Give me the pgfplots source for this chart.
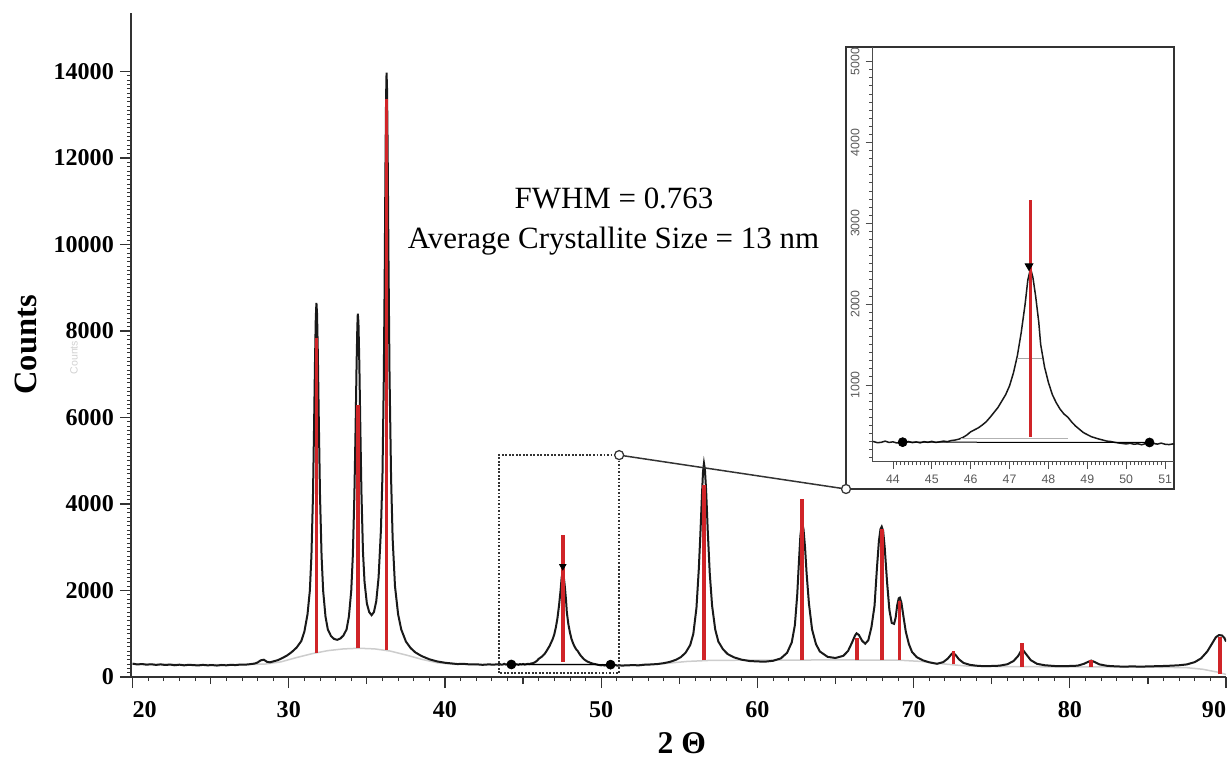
\documentclass[border=0pt]{standalone}
\usepackage{fontspec}
\setmainfont{Liberation Serif}
\newfontfamily\insetfont{Liberation Sans}
\usepackage{pgfplots}
\pgfplotsset{compat=1.18}
\usepackage{pgfplotstable}

\definecolor{stick}{RGB}{208,36,40}
\definecolor{bkg}{RGB}{205,205,205}
\definecolor{trace}{RGB}{25,25,25}

\pgfplotstableread{
x y
20.0 310
20.3 290
20.6 300
20.9 285
21.2 295
21.5 280
21.8 292
22.1 278
22.4 288
22.7 272
23.0 285
23.3 270
23.6 282
23.9 275
24.2 268
24.5 280
24.8 270
25.1 276
25.4 265
25.7 278
26.0 270
26.3 282
26.6 276
26.9 288
27.2 285
27.5 296
27.8 310
28.0 335
28.2 385
28.4 400
28.6 352
28.8 340
29.0 360
29.3 390
29.6 440
29.9 500
30.2 580
30.5 680
30.8 830
31.0 1050
31.2 1450
31.35 2000
31.45 2800
31.55 4200
31.62 5800
31.68 7300
31.73 8300
31.77 8650
31.81 8400
31.86 7500
31.92 6000
32.0 4200
32.1 2800
32.2 2000
32.35 1400
32.5 1100
32.7 950
32.9 880
33.1 860
33.3 890
33.5 960
33.7 1100
33.85 1400
34.0 2000
34.1 2800
34.2 4200
34.28 5800
34.34 7200
34.39 8100
34.42 8400
34.46 8200
34.52 7200
34.58 5800
34.65 4300
34.75 2900
34.85 2200
35.0 1700
35.15 1500
35.3 1430
35.45 1500
35.6 1750
35.75 2300
35.9 3400
36.0 4700
36.08 6800
36.14 9200
36.19 11800
36.23 13400
36.26 13970
36.29 13600
36.33 12200
36.38 9800
36.45 7000
36.55 4600
36.65 3200
36.8 2100
37.0 1450
37.2 1100
37.5 820
37.8 670
38.1 570
38.5 485
39.0 410
39.5 360
40.0 330
40.4 315
40.8 300
41.2 305
41.6 290
42.0 295
42.4 282
42.8 292
43.1 286
43.4 295
43.5 300
43.6 285
43.7 290
43.8 305
43.9 288
44.0 296
44.1 282
44.2 292
44.3 289
44.4 300
44.5 286
44.6 295
44.7 283
44.8 298
44.9 290
45.0 302
45.1 288
45.2 296
45.3 305
45.4 298
45.5 312
45.6 318
45.7 330
45.8 350
45.9 380
46.0 420
46.1 445
46.2 470
46.3 505
46.4 545
46.5 600
46.6 660
46.7 720
46.8 800
46.9 880
47.0 990
47.1 1150
47.2 1360
47.3 1650
47.4 2000
47.47 2300
47.54 2440
47.6 2330
47.67 2100
47.75 1780
47.8 1500
47.9 1220
48.0 1030
48.1 880
48.2 780
48.3 700
48.4 640
48.5 600
48.6 540
48.7 490
48.8 450
48.9 410
49.0 385
49.1 360
49.2 345
49.3 330
49.4 318
49.5 305
49.6 300
49.7 290
49.8 282
49.9 276
50.0 270
50.1 278
50.2 266
50.3 272
50.4 260
50.5 274
50.6 288
50.7 276
50.8 268
50.9 280
51.0 266
51.1 262
51.2 270
51.3 264
51.6 268
52.0 275
52.4 270
52.8 285
53.2 290
53.6 300
54.0 320
54.4 350
54.8 400
55.1 460
55.4 560
55.7 740
55.9 1000
56.1 1600
56.25 2500
56.35 3300
56.45 4200
56.52 4750
56.58 4940
56.64 4800
56.72 4300
56.82 3400
56.95 2400
57.1 1650
57.3 1100
57.5 820
57.8 640
58.1 530
58.5 455
59.0 400
59.5 370
60.0 360
60.5 355
61.0 375
61.5 430
61.9 560
62.2 800
62.4 1200
62.55 1900
62.65 2600
62.75 3250
62.83 3520
62.88 3550
62.95 3420
63.05 3000
63.15 2400
63.3 1700
63.5 1100
63.75 760
64.0 590
64.5 465
65.0 440
65.5 490
65.8 600
66.05 790
66.25 960
66.35 1010
66.5 970
66.7 840
66.9 770
67.1 850
67.3 1150
67.5 1650
67.65 2500
67.78 3150
67.88 3420
67.96 3475
68.05 3380
68.15 3000
68.3 2200
68.45 1550
68.6 1250
68.75 1230
68.85 1370
68.95 1660
69.05 1820
69.12 1835
69.22 1720
69.35 1400
69.5 1050
69.7 760
69.9 580
70.2 460
70.6 385
71.0 340
71.5 305
71.9 345
72.2 430
72.45 540
72.55 550
72.7 505
72.9 410
73.2 325
73.6 282
74.0 262
74.5 250
75.0 255
75.5 262
76.0 295
76.4 370
76.7 490
76.9 620
77.0 625
77.2 530
77.5 390
77.9 305
78.4 272
79.0 255
79.5 250
80.0 255
80.5 262
80.9 305
81.2 355
81.37 380
81.6 345
81.9 292
82.4 258
83.0 245
83.5 240
84.0 246
84.5 240
85.0 245
85.5 250
86.0 255
86.5 262
87.0 272
87.5 292
88.0 345
88.4 430
88.8 590
89.1 770
89.35 920
89.55 970
89.75 960
89.9 900
90.0 820
}\xrd

% fitted background
\pgfplotstableread{
x y
20 300
24 285
27 285
28.5 300
29.5 350
30.5 450
31.5 540
32.5 610
33.5 650
34.5 665
35.5 650
36.5 600
37.5 510
38.5 410
39.5 330
40.5 295
43 285
45 290
50 285
52 280
54 310
55.5 360
57 385
60 390
65 395
69 390
70.5 360
72 300
73.5 250
76 240
80 235
85 230
87.5 215
88.5 180
89.5 110
90 60
}\bkgtab

\begin{document}
\begin{tikzpicture}
\path[use as bounding box] (0,0) rectangle (246.2mm,-151.4mm);

\begin{axis}[
  at={(26.2mm,-135.4mm)}, anchor=south west, scale only axis,
  width=219mm, height=132.8mm,
  xmin=19.9, xmax=90, ymin=0, ymax=15350,
  axis x line=bottom, axis y line=left,
  axis line style={black!80, line width=0.3mm, -},
  xtick={20,30,...,90},
  xticklabels={{20\hspace*{-4.8mm}},30,40,50,60,70,80,{\hspace*{-4.8mm}90}},
  xticklabel style={yshift=-1.4mm},
  minor x tick num=9,
  extra x ticks={25,35,45,55,65,75,85}, extra x tick labels={},
  extra x tick style={major tick length=1.4mm},
  ytick={0,2000,...,14000},
  yticklabels={0,2000,4000,6000,8000,10000,12000,14000},
  minor y tick num=19,
  tick align=outside, major tick length=2.2mm, minor tick length=0.8mm,
  tick style={black!80, line width=0.25mm}, minor tick style={line width=0.15mm},
  tick label style={font=\fontsize{13.7}{16}\selectfont\bfseries},
  xlabel={2 Θ}, ylabel={Counts},
  every axis x label/.style={at={(axis description cs:0.503,-0.0994)}, anchor=center,
    font=\fontsize{18}{20}\selectfont\bfseries},
  every axis y label/.style={at={(axis description cs:-0.0959,0.5)}, anchor=center, rotate=90,
    font=\fontsize{18.5}{20}\selectfont\bfseries},
  unbounded coords=jump,
]
\addplot[bkg, line width=0.3mm] table[x=x,y=y] {\bkgtab};
\addplot[trace, line width=0.4mm] table[x=x,y=y] {\xrd};
\addplot[black, line width=0.25mm] coordinates {(44.25,290) (50.6,286)};
\addplot[stick, line width=0.75mm] coordinates {
  (31.77,560) (31.77,7840) (31.77,nan)
  (34.42,660) (34.42,6290) (34.42,nan)
  (36.25,625) (36.25,13360) (36.25,nan)
  (47.54,356) (47.54,3290) (47.54,nan)
  (56.60,385) (56.60,4440) (56.60,nan)
  (62.86,393) (62.86,4110) (62.86,nan)
  (66.38,394) (66.38,900) (66.38,nan)
  (67.96,392) (67.96,3420) (67.96,nan)
  (69.10,390) (69.10,1760) (69.10,nan)
  (72.56,290) (72.56,590) (72.56,nan)
  (76.95,240) (76.95,780) (76.95,nan)
  (81.37,235) (81.37,400) (81.37,nan)
  (89.60,60) (89.60,930)
};
\addplot[only marks, mark=*, mark size=0.9mm, black] coordinates {(44.25,290) (50.6,286)};
\addplot[only marks, mark=triangle*, mark size=0.75mm, black, mark options={rotate=180}]
  coordinates {(47.54,2560)};
\draw[black!80, line width=0.35mm, densely dotted] (axis cs:43.45,90) rectangle (axis cs:51.15,5130);
\coordinate (zb) at (axis cs:51.15,5130);
\end{axis}

\draw[black!80, line width=0.3mm] (zb) -- (169.2mm,-97.8mm);
\draw[black!80, line width=0.25mm, fill=white] (zb) circle (0.9mm);

\draw[black!80, line width=0.3mm, fill=white] (169.2mm,-9.4mm) rectangle (234.8mm,-97.8mm);
\draw[black!80, line width=0.25mm, fill=white] (169.2mm,-97.8mm) circle (0.9mm);

\begin{axis}[
  at={(174.54mm,-92.34mm)}, anchor=south west, scale only axis,
  width=60.26mm, height=82.94mm,
  xmin=43.48, xmax=51.23, ymin=50, ymax=5180,
  axis x line=bottom, axis y line=left,
  axis line style={black!70, line width=0.2mm, -},
  xtick={44,...,51}, minor x tick num=9,
  ytick={0,1000,...,5000}, minor y tick num=9,
  tick align=outside, major tick length=1.4mm, minor tick length=0.7mm,
  tick style={black!70, line width=0.15mm},
  scaled ticks=false,
  /pgf/number format/assume math mode=true,
  /pgf/number format/1000 sep={},
  tick label style={font=\insetfont\fontsize{7}{8}\selectfont, text=black!65},
  yticklabel style={rotate=90, anchor=south},
]
\addplot[trace, line width=0.3mm] table[x=x,y=y] {\xrd};
\addplot[black, line width=0.2mm] coordinates {(44.25,292) (50.6,288)};
\addplot[black!30, line width=0.15mm] coordinates {(45.75,340) (48.5,340)};
\addplot[black!35, line width=0.15mm] coordinates {(47.2,1334) (47.83,1334)};
\addplot[stick, line width=0.6mm] coordinates {(47.54,356) (47.54,3290)};
\addplot[only marks, mark=*, mark size=0.9mm, black] coordinates {(44.25,292) (50.6,288)};
\addplot[only marks, mark=triangle*, mark size=0.9mm, black, mark options={rotate=180}]
  coordinates {(47.5,2470)};
\end{axis}

\node[font=\fontsize{17.6}{20}\selectfont] at (122.8mm,-39.6mm) {FWHM = 0.763};
\node[font=\fontsize{17.6}{20}\selectfont] at (122.7mm,-48.2mm) {Average Crystallite Size = 13 nm};
\node[rotate=90, text=black!18, font=\insetfont\fontsize{6}{7}\selectfont] at (14.8mm,-71.5mm) {Counts};
\end{tikzpicture}
\end{document}
